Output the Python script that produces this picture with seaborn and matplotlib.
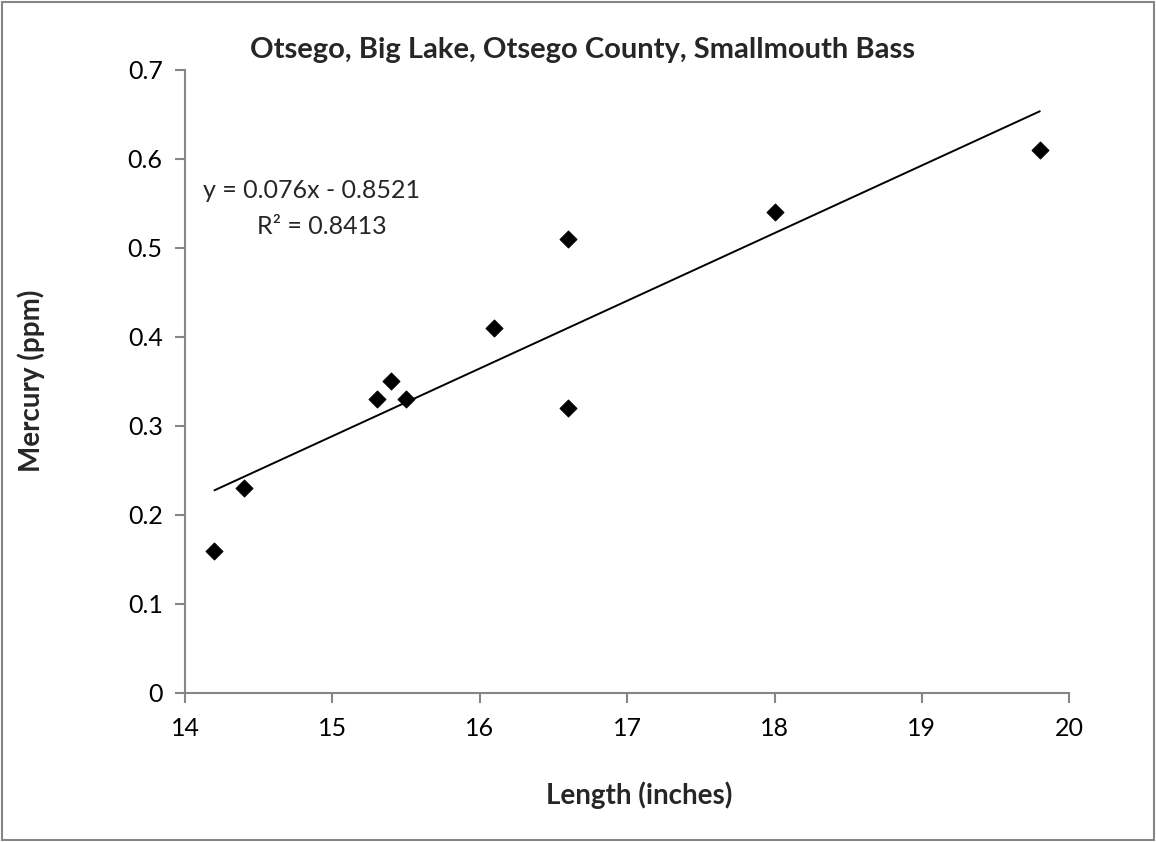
import numpy as np
import pandas as pd
import matplotlib
matplotlib.use("Agg")
import matplotlib.pyplot as plt
import seaborn as sns
from matplotlib.patches import Rectangle

# ----------------------------------------
# Data
# ----------------------------------------
length_in = [14.2, 14.4, 15.3, 15.4, 15.5, 16.1, 16.6, 16.6, 18.0, 19.8]
mercury_ppm = [0.16, 0.23, 0.33, 0.35, 0.33, 0.41, 0.51, 0.32, 0.54, 0.61]

x_ticks = [14, 15, 16, 17, 18, 19, 20]
y_ticks = [0, 0.1, 0.2, 0.3, 0.4, 0.5, 0.6, 0.7]
y_tick_labels = ["0", "0.1", "0.2", "0.3", "0.4", "0.5", "0.6", "0.7"]

df = pd.DataFrame({"length": length_in, "mercury": mercury_ppm})

# linear trend over the data range
slope, intercept = np.polyfit(df["length"], df["mercury"], 1)
trend = pd.DataFrame({"length": [df["length"].min(), df["length"].max()]})
trend["mercury"] = slope * trend["length"] + intercept

# ----------------------------------------
# Plot
# ----------------------------------------
sns.set_style("white")
plt.rcParams["font.family"] = ["Lato", "DejaVu Sans"]

fig = plt.figure(figsize=(11.56, 8.42), dpi=100)
ax = fig.add_axes([0.160, 0.177, 0.765, 0.740])

sns.lineplot(
    data=trend,
    x="length",
    y="mercury",
    color="black",
    linewidth=1.4,
    ax=ax
)

sns.scatterplot(
    data=df,
    x="length",
    y="mercury",
    marker="D",
    color="black",
    s=75,
    edgecolor="black",
    zorder=3,
    ax=ax
)

ax.set_xlim(14, 20)
ax.set_ylim(0, 0.7)
ax.set_xticks(x_ticks)
ax.set_yticks(y_ticks)
ax.set_yticklabels(y_tick_labels)

grey = "#868686"
for side in ["top", "right"]:
    ax.spines[side].set_visible(False)
for side in ["left", "bottom"]:
    ax.spines[side].set_color(grey)
    ax.spines[side].set_linewidth(1.5)

ax.tick_params(
    axis="both",
    direction="out",
    length=7,
    width=1.5,
    color=grey,
    labelsize=18,
    labelcolor="black",
    left=True,
    bottom=True
)
ax.tick_params(axis="x", pad=10)
ax.tick_params(axis="y", pad=9)

ax.set_xlabel("")
ax.set_ylabel("")

fig.text(0.504, 0.941, "Otsego, Big Lake, Otsego County, Smallmouth Bass",
         ha="center", va="center", fontsize=21, fontweight="bold")
fig.text(0.553, 0.056, "Length (inches)",
         ha="center", va="center", fontsize=20, fontweight="bold")
fig.text(0.027, 0.548, "Mercury (ppm)", rotation=90,
         ha="center", va="center", fontsize=20, fontweight="bold")

ax.text(14.12, 0.565, "y = 0.076x - 0.8521", ha="left", va="center", fontsize=18)
ax.text(14.93, 0.524, "R² = 0.8413", ha="center", va="center", fontsize=18)

# chart border
fig.patches.append(Rectangle((0.002, 0.002), 0.996, 0.996, transform=fig.transFigure,
                             fill=False, edgecolor=grey, linewidth=1.5))

plt.savefig("out.png", dpi=100)
plt.close()
